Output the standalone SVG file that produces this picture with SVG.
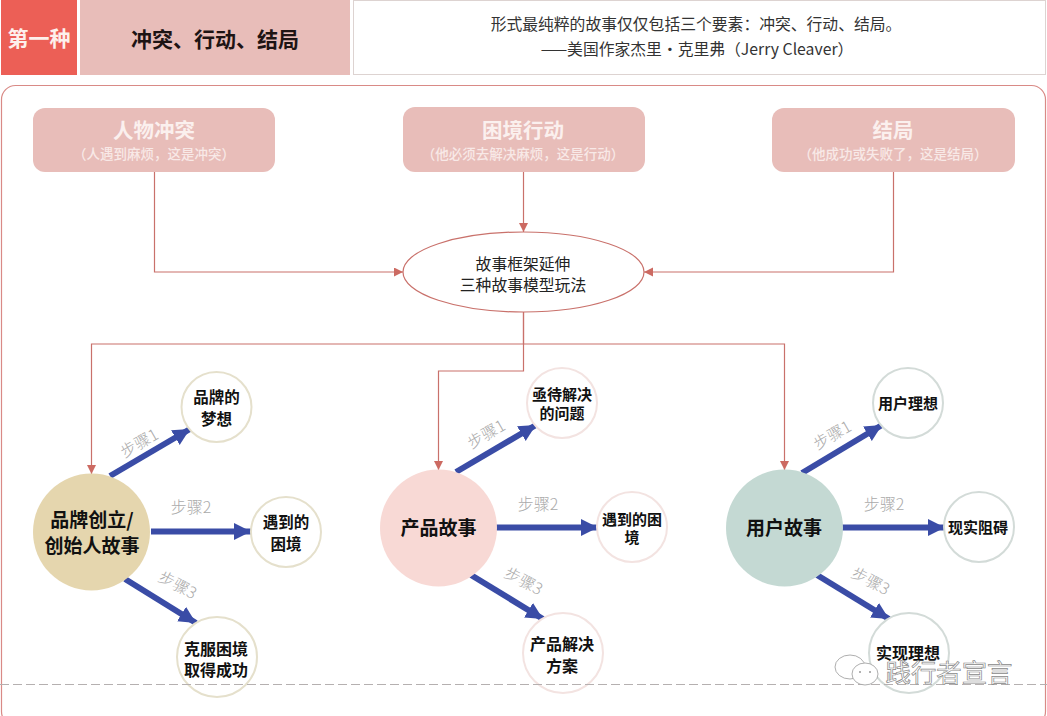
<svg xmlns="http://www.w3.org/2000/svg" width="1047" height="716" viewBox="0 0 1047 716">
<style>
text{font-family:"Noto Sans CJK SC","Noto Sans",sans-serif;text-anchor:middle}
.c{fill:none;stroke:#C9716B;stroke-width:1.2}
.b{fill:none;stroke:#3A4CA6;stroke-width:6}
.box{fill:#E8BDB9}
.tt{font-size:20.500px;font-weight:700;fill:#FBF0EE}
.st{font-size:13.500px;font-weight:500;fill:#F8E9E7}
.q{font-size:15.800px;fill:#333}
.big{font-size:19px;font-weight:700;fill:#111}
.sm{font-size:15.500px;font-weight:700;fill:#111}
.step{font-size:16px;font-weight:300;fill:#AAA}
.s1{fill:#fff;stroke:#E5E0CC;stroke-width:2}
.s2{fill:#fff;stroke:#F3E3E1;stroke-width:2}
.s3{fill:#fff;stroke:#D3DBD8;stroke-width:2}
</style>
<defs>
<marker id="ra" markerWidth="12" markerHeight="10" refX="9" refY="4.500" orient="auto" markerUnits="userSpaceOnUse"><path d="M0 0L9 4.500L0 9z" fill="#CC6A62"/></marker>
<marker id="ba" markerWidth="20" markerHeight="20" refX="17" refY="8.500" orient="auto" markerUnits="userSpaceOnUse"><path d="M0 0L17 8.500L0 17z" fill="#3A4CA6"/></marker>
</defs>
<rect width="1047" height="716" fill="#fff"/>
<g id="header">
<rect x="1" y="0" width="76" height="75" fill="#EC5F56"/>
<text x="39" y="46" font-size="21" font-weight="700" fill="#FDF0EC">第一种</text>
<rect class="box" x="80" y="0" width="270" height="75"/>
<text x="215" y="47" font-size="21" font-weight="700" fill="#1E1414">冲突、行动、结局</text>
<rect x="353.500" y="0.500" width="692" height="74" fill="#fff" stroke="#DDD3D1"/>
<text class="q" x="696" y="30">形式最纯粹的故事仅仅包括三个要素：冲突、行动、结局。</text>
<text class="q" x="697" y="55">——美国作家杰里·克里弗（Jerry Cleaver）</text>
</g>
<rect id="frame" x="1.500" y="85.500" width="1044" height="640" rx="14" fill="#fff" stroke="#D98A86" stroke-width="1.200"/>
<g id="connectors">
<path class="c" marker-end="url(#ra)" d="M154.500 172V272H403"/>
<path class="c" marker-end="url(#ra)" d="M523.500 172V232"/>
<path class="c" marker-end="url(#ra)" d="M893.500 172V272H644"/>
<path class="c" marker-end="url(#ra)" d="M523.500 312V344H91.500V474"/>
<path class="c" marker-end="url(#ra)" d="M523.500 312V371H438.500V470"/>
<path class="c" marker-end="url(#ra)" d="M523.500 344H784.500V470"/>
<path class="b" marker-end="url(#ba)" d="M110 476L190 429"/>
<path class="b" marker-end="url(#ba)" d="M151 531.500H251"/>
<path class="b" marker-end="url(#ba)" d="M125 579L196 623"/>
<path class="b" marker-end="url(#ba)" d="M456 472L536 425"/>
<path class="b" marker-end="url(#ba)" d="M496 527.500H598"/>
<path class="b" marker-end="url(#ba)" d="M471 575L543 619"/>
<path class="b" marker-end="url(#ba)" d="M802 473L882 425"/>
<path class="b" marker-end="url(#ba)" d="M842 527.500H945"/>
<path class="b" marker-end="url(#ba)" d="M817 575L889 619"/>
</g>
<g id="step-labels">
<text class="step" transform="translate(142 448) rotate(-30)">步骤1</text>
<text class="step" x="191" y="513">步骤2</text>
<text class="step" transform="translate(175 590) rotate(28)">步骤3</text>
<text class="step" transform="translate(489 439) rotate(-30)">步骤1</text>
<text class="step" x="538" y="510">步骤2</text>
<text class="step" transform="translate(521 586) rotate(28)">步骤3</text>
<text class="step" transform="translate(835 440) rotate(-30)">步骤1</text>
<text class="step" x="884" y="510">步骤2</text>
<text class="step" transform="translate(868 586) rotate(28)">步骤3</text>
</g>
<g id="n-conflict"><rect class="box" x="33" y="108" width="242" height="64" rx="12"/><text class="tt" x="154" y="138">人物冲突</text><text class="st" x="154" y="159">（人遇到麻烦，这是冲突）</text></g>
<g id="n-action"><rect class="box" x="403" y="107" width="242" height="65" rx="12"/><text class="tt" x="523" y="138">困境行动</text><text class="st" x="523" y="159">（他必须去解决麻烦，这是行动）</text></g>
<g id="n-ending"><rect class="box" x="772" y="108" width="243" height="64" rx="12"/><text class="tt" x="893" y="138">结局</text><text class="st" x="893" y="159">（他成功或失败了，这是结局）</text></g>
<g id="n-frame"><ellipse cx="523.500" cy="272" rx="120.500" ry="40" fill="#fff" stroke="#C9716B" stroke-width="1.200"/><text x="523" y="270" font-size="15.800" fill="#222">故事框架延伸</text><text x="523" y="291" font-size="15.800" fill="#222">三种故事模型玩法</text></g>
<g id="n-brand"><circle cx="91.500" cy="532" r="58.500" fill="#E5D6AE"/><text class="big" x="92" y="527">品牌创立/</text><text class="big" x="92" y="553">创始人故事</text></g>
<g id="n-brand-1"><circle class="s1" cx="216.500" cy="407" r="35"/><text class="sm" x="216.500" y="403">品牌的</text><text class="sm" x="216.500" y="425">梦想</text></g>
<g id="n-brand-2"><circle class="s1" cx="286" cy="532" r="35"/><text class="sm" x="286" y="528">遇到的</text><text class="sm" x="286" y="550">困境</text></g>
<g id="n-brand-3"><circle class="s1" cx="217" cy="657" r="40"/><text class="sm" style="font-size:16px" x="216" y="655">克服困境</text><text class="sm" style="font-size:16px" x="216" y="676">取得成功</text></g>
<g id="n-product"><circle cx="438.500" cy="528" r="58.500" fill="#F8D9D5"/><text class="big" x="438.500" y="535">产品故事</text></g>
<g id="n-product-1"><circle class="s2" cx="562" cy="403" r="35"/><text class="sm" style="font-size:15px" x="562" y="400">亟待解决</text><text class="sm" style="font-size:15px" x="562" y="419">的问题</text></g>
<g id="n-product-2"><circle class="s2" cx="632" cy="527" r="35"/><text class="sm" style="font-size:15px" x="632" y="525">遇到的困</text><text class="sm" style="font-size:15px" x="632" y="543">境</text></g>
<g id="n-product-3"><circle class="s2" cx="563" cy="653" r="40"/><text class="sm" style="font-size:16px" x="562" y="650">产品解决</text><text class="sm" style="font-size:16px" x="562" y="672">方案</text></g>
<g id="n-user"><circle cx="784.500" cy="528" r="58.500" fill="#C4D9D3"/><text class="big" x="784" y="535">用户故事</text></g>
<g id="n-user-1"><circle class="s3" cx="908" cy="403" r="35"/><text class="sm" style="font-size:15px" x="908" y="409">用户理想</text></g>
<g id="n-user-2"><circle class="s3" cx="979" cy="527" r="35"/><text class="sm" style="font-size:15px" x="978" y="533">现实阻碍</text></g>
<g id="n-user-3"><circle class="s3" cx="909" cy="653" r="40"/><text class="sm" style="font-size:16px" x="908" y="659">实现理想</text></g>
<path id="divider" d="M0 684.500H1047" fill="none" stroke="#B5B0B0" stroke-width="1" stroke-dasharray="9 4"/>
<g id="watermark">
<ellipse cx="850" cy="667" rx="15" ry="12" fill="#fff" fill-opacity="0.700" stroke="#999" stroke-width="0.800"/>
<ellipse cx="865" cy="674" rx="13" ry="11" fill="#fff" stroke="#999" stroke-width="0.800"/>
<circle cx="860" cy="672" r="1" fill="#999"/><circle cx="870" cy="672" r="1" fill="#999"/>
<text x="949" y="682" font-size="25.400" fill="#fff" stroke="#888" stroke-width="0.700">践行者宣言</text>
</g>
</svg>
